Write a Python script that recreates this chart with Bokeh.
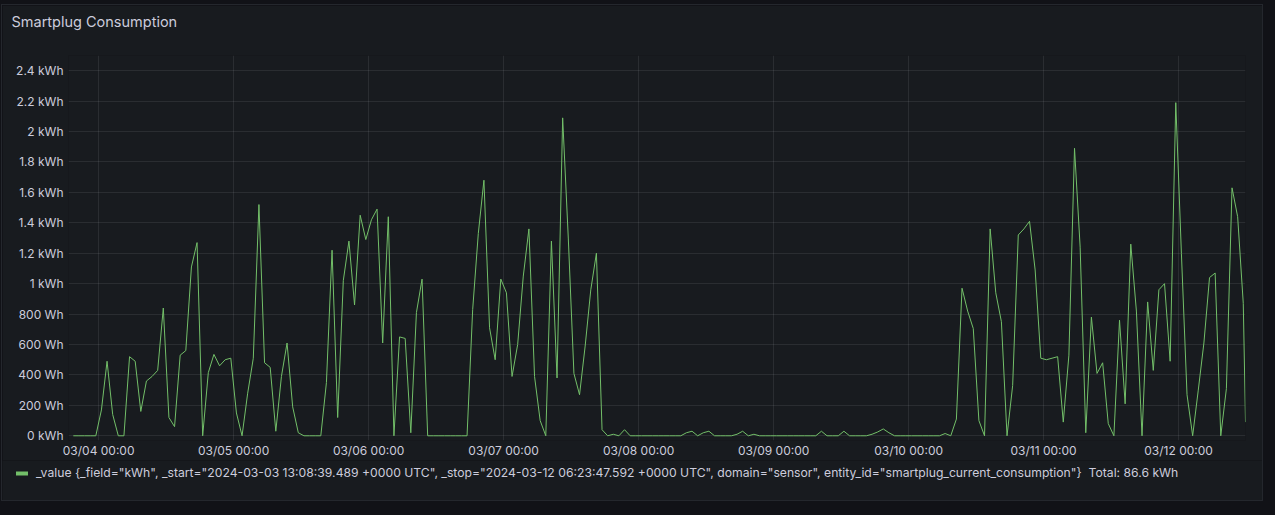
import pandas as pd
from bokeh.plotting import figure
from bokeh.layouts import column
from bokeh.models import (ColumnDataSource, FixedTicker, CustomJSTickFormatter,
                          DatetimeTickFormatter, Legend, LegendItem, Range1d, Title)
from bokeh.embed import file_html
from bokeh.resources import INLINE

# ---------------- data ----------------
title_text = "Smartplug Consumption"
range_start = "2024-03-03 18:38:39.489"
range_stop = "2024-03-12 11:53:47.592"
first_point = "2024-03-03 19:30:00"

consumption_kwh = [
    0, 0, 0, 0, 0, 0.17, 0.49, 0.14, 0, 0,
    0.52, 0.49, 0.16, 0.36, 0.39, 0.43, 0.84, 0.12, 0.06, 0.53,
    0.56, 1.11, 1.27, 0, 0.415, 0.535, 0.46, 0.50, 0.51, 0.15,
    0, 0.28, 0.51, 1.52, 0.48, 0.45, 0.03, 0.39, 0.61, 0.19,
    0.02, 0, 0, 0, 0, 0.35, 1.22, 0.12, 1.02, 1.28,
    0.86, 1.45, 1.29, 1.42, 1.49, 0.61, 1.44, 0, 0.65, 0.64,
    0.02, 0.81, 1.03, 0, 0, 0, 0, 0, 0, 0,
    0, 0.83, 1.33, 1.68, 0.71, 0.50, 1.03, 0.94, 0.39, 0.60,
    1.05, 1.36, 0.39, 0.10, 0, 1.28, 0.38, 2.09, 1.30, 0.41,
    0.27, 0.59, 0.96, 1.20, 0.04, 0, 0.01, 0, 0.04, 0,
    0, 0, 0, 0, 0, 0, 0, 0, 0, 0.02,
    0.03, 0, 0.02, 0.03, 0, 0, 0, 0, 0.01, 0.03,
    0, 0.01, 0, 0, 0, 0, 0, 0, 0, 0,
    0, 0, 0, 0.03, 0, 0, 0, 0.03, 0, 0,
    0, 0, 0.01, 0.025, 0.045, 0.02, 0, 0, 0, 0,
    0, 0, 0, 0, 0, 0.015, 0, 0.11, 0.97, 0.82,
    0.705, 0.10, 0, 1.36, 0.94, 0.75, 0, 0.33, 1.32, 1.36,
    1.41, 1.09, 0.51, 0.50, 0.51, 0.52, 0.09, 0.53, 1.89, 1.24,
    0.02, 0.78, 0.41, 0.48, 0.08, 0, 0.76, 0.21, 1.26, 0.82,
    0, 0.88, 0.43, 0.96, 1.00, 0.49, 2.19, 1.20, 0.27, 0,
    0.30, 0.61, 1.04, 1.07, 0, 0.31, 1.63, 1.44, 0.87, 0.09,
]

y_ticks = [0, 0.2, 0.4, 0.6, 0.8, 1.0, 1.2, 1.4, 1.6, 1.8, 2.0, 2.2, 2.4]
x_ticks = ["2024-03-04", "2024-03-05", "2024-03-06", "2024-03-07", "2024-03-08",
           "2024-03-09", "2024-03-10", "2024-03-11", "2024-03-12"]

legend_label = ('_value {_field="kWh", _start="2024-03-03 13:08:39.489 +0000 UTC", '
                '_stop="2024-03-12 06:23:47.592 +0000 UTC", domain="sensor", '
                'entity_id="smartplug_current_consumption"}  Total: 86.6 kWh')

# ---------------- build ----------------
times = list(pd.date_range(first_point, periods=len(consumption_kwh) - 1, freq="h"))
times.append(pd.Timestamp(range_stop))
source = ColumnDataSource(data=dict(t=times, v=consumption_kwh))

TEXT = "#ccccdc"
FONT = "Inter"
GREEN = "#73bf69"
PANEL = "#181b1f"

p = figure(width=1260, height=455, output_backend="svg", toolbar_location=None,
           title=None, x_axis_type="datetime",
           x_range=Range1d(pd.Timestamp(range_start), pd.Timestamp(range_stop)),
           y_range=Range1d(-0.031, 2.5),
           min_border_left=66, min_border_right=17, min_border_top=49,
           min_border_bottom=20)
p.background_fill_color = PANEL
p.border_fill_color = PANEL
p.outline_line_color = None
p.frame_align = False

# spacer (nearest the frame) then the panel title above it
p.add_layout(Title(text=" ", text_font_size="7.5px", text_color=PANEL), "above")
p.add_layout(Title(text=title_text, text_color=TEXT, text_font=FONT,
                   text_font_size="14.5px", text_font_style="normal",
                   align="left", offset=-57), "above")

line = p.line("t", "v", source=source, line_color=GREEN, line_width=1)

p.xaxis.ticker = FixedTicker(ticks=[pd.Timestamp(t).value / 1e6 for t in x_ticks])
fmt = "%m/%d %H:%M"
p.xaxis.formatter = DatetimeTickFormatter(milliseconds=fmt, seconds=fmt, minsec=fmt,
                                          minutes=fmt, hourmin=fmt, hours=fmt,
                                          days=fmt, months=fmt, years=fmt)
p.yaxis.ticker = FixedTicker(ticks=y_ticks)
p.yaxis.formatter = CustomJSTickFormatter(code="""
    if (Math.abs(tick) < 1e-9) return "0 kWh";
    if (tick < 1) return Math.round(tick * 1000) + " Wh";
    return parseFloat(tick.toFixed(1)) + " kWh";
""")

for ax in (p.xaxis[0], p.yaxis[0]):
    ax.axis_line_color = None
    ax.major_tick_line_color = None
    ax.minor_tick_line_color = None
    ax.major_tick_out = 0
    ax.major_tick_in = 0
    ax.minor_tick_out = 0
    ax.minor_tick_in = 0
    ax.major_label_text_color = TEXT
    ax.major_label_text_font = FONT
    ax.major_label_text_font_size = "12px"
p.xaxis.major_label_standoff = 2
p.yaxis.major_label_standoff = 5

for g in (p.xgrid[0], p.ygrid[0]):
    g.grid_line_color = TEXT
    g.grid_line_alpha = 0.1
p.xgrid.ticker = p.xaxis[0].ticker
p.ygrid.ticker = p.yaxis[0].ticker

# legend strip (separate figure so the legend sits inside its own frame);
# the swatch renderer's data lie outside this strip's ranges, so only the
# legend swatch is visible
lf = figure(width=1260, height=40, output_backend="svg", toolbar_location=None,
            title=None, x_axis_location=None, y_axis_location=None,
            x_range=Range1d(0, 1), y_range=Range1d(0, 1),
            min_border=0, min_border_left=0, min_border_right=0,
            min_border_top=0, min_border_bottom=0)
lf.background_fill_color = PANEL
lf.border_fill_color = PANEL
lf.outline_line_color = None
lf.grid.visible = False
lf.frame_align = False
legend_glyph = lf.line("t", "v", source=source, line_color=GREEN, line_width=4,
                       line_cap="round")
legend = Legend(items=[LegendItem(label=legend_label, renderers=[legend_glyph])],
                location=(14, 20), orientation="horizontal",
                background_fill_alpha=0, border_line_alpha=0,
                label_text_color=TEXT, label_text_font=FONT,
                label_text_font_size="12.2px", glyph_width=12, glyph_height=14,
                label_height=14, label_standoff=8, padding=0, margin=0, spacing=0)
lf.add_layout(legend)

layout = column(p, lf, spacing=0)
layout.margin = (5, 0, 0, 2)
layout.styles = {"outline": "1px solid #24272d"}

html = file_html(layout, INLINE)
html = html.replace("<head>", "<head><style>body{background:#111217;}</style>", 1)
open("out.html", "w").write(html)
